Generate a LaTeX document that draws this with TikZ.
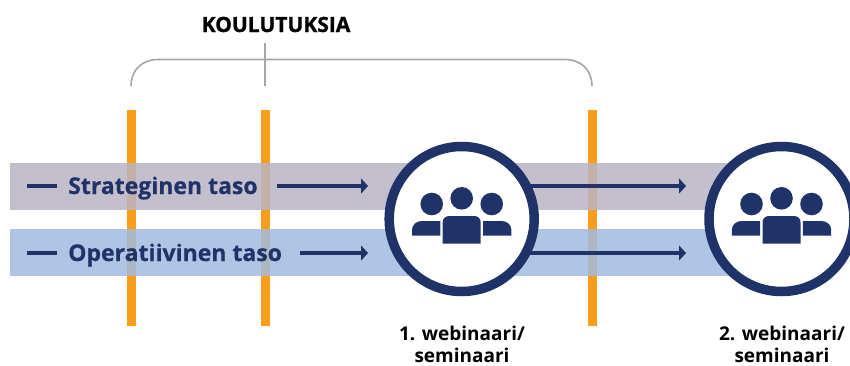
\documentclass[tikz,border=0pt]{standalone}
\usepackage{fontspec}
\setmainfont{Open Sans}
\usetikzlibrary{positioning,arrows.meta}
\definecolor{navy}{RGB}{31,51,104}
\definecolor{mast}{RGB}{249,157,28}
\definecolor{stratfill}{RGB}{185,180,195}
\definecolor{opfill}{RGB}{161,187,222}
\definecolor{bracegray}{RGB}{166,166,166}
\tikzset{
  mastbar/.style={fill=mast,draw=none,minimum width=9pt,minimum height=216pt,inner sep=0pt},
  levelbar/.style={draw=none,fill opacity=.85,minimum width=730pt,minimum height=47pt,inner sep=0pt,anchor=west},
  leveltext/.style={text=navy,font=\bfseries\fontsize{23}{23}\selectfont\addfontfeature{FakeBold=.5},inner sep=0pt,anchor=base west},
  flow/.style={draw=navy,line width=4pt,-{Triangle[length=7pt,width=15pt]}},
  dashline/.style={draw=navy,line width=4pt},
  meeting/.style={circle,draw=navy,fill=white,line width=9.5pt,minimum size=145pt,inner sep=0pt},
  bracket/.style={draw=bracegray,line width=1.6pt},
  caption/.style={font=\bfseries\fontsize{19}{21.5}\selectfont,align=center,inner sep=0pt,anchor=base},
  people/.pic={
    \fill[navy] (0,-20.7) circle (11.3);
    \fill[navy] (-30,-15) circle (11.3);
    \fill[navy] (30,-15) circle (11.3);
    \fill[navy] (-19,24.7) -- (-19,3) .. controls (-19,-0.5) and (-16,-3) .. (-12.5,-3) -- (12.5,-3) .. controls (16,-3) and (19,-0.5) .. (19,3) -- (19,24.7) -- cycle;
    \fill[navy] (-21.3,16.7) -- (-21.3,2) -- (-40,2) .. controls (-45.5,2) and (-49.7,6) .. (-49.7,11) -- (-49.7,16.7) -- cycle;
    \fill[navy] (21.3,16.7) -- (21.3,2) -- (40,2) .. controls (45.5,2) and (49.7,6) .. (49.7,11) -- (49.7,16.7) -- cycle;
  }
}
\begin{document}
\begin{tikzpicture}[x=1pt,y=-1pt]
   \useasboundingbox (0,0) rectangle (850,365);
   % masts behind the bars
   \node (M1) [mastbar] at (131,218) {};
   \node (M2) [mastbar] at (265,218) {};
   \node (M3) [mastbar] at (592,218) {};
   \node (STRATBAR) [levelbar,fill=stratfill] at (10,186.5) {};
   \node (OPBAR) [levelbar,fill=opfill] at (10,252.5) {};
   % text
   \node (STRAT) [leveltext] at (68,194) {Strateginen taso};
   \node (OP) [leveltext] at (68,261) {Operatiivinen taso};
   % circles
   \node (W1) [meeting] at (461.7,219) {};
   \node (W2) [meeting] at (781.5,219) {};
   \pic at (W1) {people};
   \pic at (W2) {people};
   % flows
   \coordinate (SA) at (27,186);
   \coordinate (SB) at (57,186);
   \coordinate (OA) at (27,253);
   \coordinate (OB) at (57,253);
   \coordinate (SC) at (277,186);
   \coordinate (SD) at (368,186);
   \coordinate (OC) at (300,253);
   \coordinate (OD) at (368,253);
   \coordinate (SE) at (530,186);
   \coordinate (SF) at (686,186);
   \coordinate (OE) at (530,253);
   \coordinate (OF) at (686,253);
   \draw[dashline] (SA) -- (SB);
   \draw[dashline] (OA) -- (OB);
   \draw[flow] (SC) -- (SD);
   \draw[flow] (OC) -- (OD);
   \draw[flow] (SE) -- (SF);
   \draw[flow] (OE) -- (OF);
   % bracket
   \node (TITLE) [font=\bfseries\fontsize{21}{21}\selectfont,inner sep=0pt,anchor=base] at (276,32) {\addfontfeature{FakeBold=1}KOULUTUKSIA};
   \coordinate (BL) at (131,86);
   \coordinate (BR) at (592,86);
   \coordinate (TT) at (265,43);
   \coordinate (TB) at (265,86);
   \draw[bracket] (BL) .. controls (131,70) and (142,59.5) .. (158,59.5) -- (565,59.5) .. controls (581,59.5) and (592,70) .. (BR);
   \draw[bracket] (TT) -- (TB);
   % captions
   \node (C1) [caption] at (462,362) {1. webinaari/\\seminaari};
   \node (C2) [caption] at (782,362) {2. webinaari/\\seminaari};
\end{tikzpicture}
\end{document}
